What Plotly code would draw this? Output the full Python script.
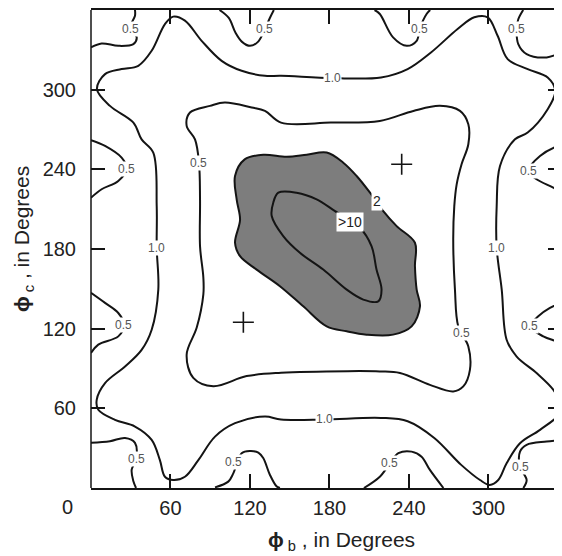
import plotly.graph_objects as go

# ---------------- data (degrees) ----------------
tick_vals = [60, 120, 180, 240, 300]
tick_text = ["60", "120", "180", "240", "300"]

# level 2 contour (shaded region)
lvl2_x = [108.7, 116, 130, 147.7, 162.8, 177.9, 190.4, 200.5, 210.6, 220.6, 230.7, 244.5, 244.5, 245.8, 248.3,
          242, 228, 208, 193, 177.9, 160.2, 142.6, 125, 112.5, 108.7, 112.5, 110, 108.7]
lvl2_y = [235, 247.5, 251, 249.5, 251, 252.6, 245, 235, 222.4, 208.5, 197.2, 184.7, 167, 149.4, 136.8,
          121.7, 115.5, 115.5, 118, 121.7, 136.8, 152, 164.5, 174.6, 184.7, 202, 217, 235]

# level >10 contour
lvl10_x = [137.6, 141.4, 155.2, 170.3, 184.2, 203, 211.8, 215.5, 219.3, 216.8, 205.5, 193, 175.3, 157.7, 145.1, 136.4, 137.6]
lvl10_y = [215, 222.4, 222.4, 217.4, 208.5, 196, 182, 164.5, 149.4, 140.6, 141.9, 149.4, 164.5, 177.1, 189.7, 204.8, 215]

# inner 0.5 contour
inner05_x = [89.8, 101, 121.3, 131.3, 143.4, 181, 218, 243.3, 263.4, 278.5, 284.8, 284.8, 279.7, 276, 274.2, 273.4,
             274.7, 277.2, 284.8, 286, 281, 273.4, 255.8, 233.2, 218, 193.7, 143.4, 117.5, 92.3, 77.2, 72.2,
             79.8, 84.8, 84.8, 82.3, 82.3, 81.5, 78.5, 72.2, 74.7, 89.8]
inner05_y = [287.8, 290.3, 286.6, 284, 275.2, 275.2, 276.4, 284, 287.8, 284, 274, 258.9, 243.8, 228.7, 212.3, 187,
             149.4, 121.7, 106.6, 89, 76.5, 72.7, 77.7, 86.6, 87.8, 88, 86.8, 84.3, 76.7, 83, 100.6,
             120.8, 145.9, 158.5, 182, 217, 245, 262.6, 272.7, 282.8, 287.8]

# 1.0 contour
one_x = [4.5, 10.6, 23.1, 35.7, 45.8, 55.8, 62, 70.9, 83.5, 98.6, 113.7, 131.3, 143.4, 182.4, 218.9, 239, 256.6,
         276.7, 289.3, 299.4, 306.9, 314.5, 329.6, 344.7, 350.4, 344.7, 329.6, 320, 308.7, 306.2, 306.2, 310,
         313.7, 321.3, 336.3, 348.9, 354, 354, 338.9, 323.8, 313.7, 307.4, 301, 293.6, 279.2, 259.1, 239,
         218.9, 176, 143.4, 131.3, 108.7, 93.6, 81, 70.9, 62, 55.8, 52, 45.8, 33.2, 18.1, 5.5, 4.3, 10.6,
         25.7, 38.2, 45.8, 50.8, 49.6, 49.6, 47, 38.2, 32, 14.3, 4.5]
one_y = [300.4, 311.7, 315.5, 318, 329.3, 349.4, 355, 352, 336.8, 321.7, 314.2, 310.4, 310.4, 308.7, 309.2, 315.5, 328,
         345.7, 354.5, 354.5, 340.6, 323, 315.5, 309.2, 299, 285.3, 267.7, 262.6, 242.5, 212.3, 181, 149.4,
         111.7, 99, 86.6, 74, 64, 56.4, 43.8, 33.7, 18.6, 6, 2.3, 6, 17.6, 37.7, 50.3,
         52.8, 51.6, 51.6, 53.8, 48.8, 38.7, 21, 8.5, 6, 8.5, 21, 36.2, 46.3, 51.3, 58.9, 66.4, 79,
         91.5, 104, 119.2, 149.4, 181, 212.3, 252.6, 262.6, 275.2, 287.8, 300.4]

# 0.5 lobes along the edges
lobes = {
    "BL": ([0, 14.3, 25.7, 33.2, 34, 30.7, 32, 34], [34, 35.2, 37.7, 34, 21.4, 13.8, 5, 0]),
    "B120": ([93.6, 103.6, 107.4, 113.7, 120, 126.3, 130, 135, 140, 142.6], [0.5, 4.8, 11, 26.2, 27.9, 26.7, 22.6, 10, 1.3, 0]),
    "B240": ([206, 218, 225.7, 232, 242, 249.5, 255.8, 266], [0, 8.5, 18.6, 26.2, 27.4, 23.6, 13.6, 0]),
    "BR": ([326.3, 328.8, 323.8, 323.8, 328.8, 343.9, 355.5, 360], [0, 6, 16, 27.4, 32.5, 35, 36.2, 36.5]),
    "L120": ([0, 5.5, 20.6, 25, 20.6, 10.6, 0], [101.7, 108, 114.2, 123, 131.8, 139.4, 147]),
    "L240": ([0, 10.6, 23.1, 27, 20.6, 8, 0], [262, 257.6, 248.8, 240.5, 231.2, 225, 218.6]),
    "TL": ([0, 8, 20.6, 32, 34.5, 29.4, 33.2, 33.2], [331.8, 334.8, 333, 334.3, 339.4, 346.4, 355.7, 360]),
    "T120": ([97, 104, 109, 114, 120, 126, 131, 135, 138], [360, 354, 343, 336, 333, 336, 345, 354, 360]),
    "T240": ([214, 218, 228, 238.3, 245.8, 248.3, 253.3, 256], [360, 357, 339.4, 333, 336.8, 346.4, 357, 360]),
    "TR": ([326.2, 322.5, 321.3, 322.5, 328.8, 343.9, 355.5, 360], [360, 353, 346.4, 334.3, 326.8, 324.3, 328, 329]),
    "R240": ([360, 352.7, 338.9, 330, 336.3, 348.9, 355.2, 360], [259, 257.6, 250, 238.7, 232.5, 226.2, 222.4, 221]),
    "R120": ([360, 355.2, 346.4, 337.6, 331.3, 341.4, 351.5, 360], [141, 139.4, 135.6, 129.3, 121.7, 114.2, 110.4, 107]),
}

# contour labels
lab05_x = [30, 131, 248, 321, 27, 24.4, 81.5, 279.7, 330, 331, 34, 107.5, 225.5, 324]
lab05_y = [346, 346, 346, 346, 240, 123, 245, 117, 239, 122, 21.5, 19.5, 19, 16]
lab10_x = [182.4, 49.6, 306.3, 176]
lab10_y = [308.7, 181, 181, 51.6]
big_labels = [("2", 216, 216), (">10", 195.5, 200)]

# + markers
plus_x = [115, 234.5]
plus_y = [124.8, 243.8]

# ---------------- figure ----------------
LINE = dict(color="#141414", width=2, shape="spline", smoothing=1)
fig = go.Figure()

fig.add_trace(go.Scatter(x=lvl2_x, y=lvl2_y, mode="lines", fill="toself", fillcolor="#7d7d7d",
                         line=LINE, hoverinfo="skip", showlegend=False))
fig.add_trace(go.Scatter(x=lvl10_x, y=lvl10_y, mode="lines", line=LINE, hoverinfo="skip", showlegend=False))
fig.add_trace(go.Scatter(x=inner05_x, y=inner05_y, mode="lines", line=LINE, hoverinfo="skip", showlegend=False))
fig.add_trace(go.Scatter(x=one_x, y=one_y, mode="lines", line=LINE, hoverinfo="skip", showlegend=False))
for name, (lx, ly) in lobes.items():
    fig.add_trace(go.Scatter(x=lx, y=ly, mode="lines", line=LINE, hoverinfo="skip", showlegend=False, name=name))

fig.add_trace(go.Scatter(x=plus_x, y=plus_y, mode="markers",
                         marker=dict(symbol="cross-thin", size=15, line=dict(color="#141414", width=1.6)),
                         hoverinfo="skip", showlegend=False))

LABFONT = dict(family="Liberation Sans, Arial, sans-serif", size=12, color="#555555")
for x, y in zip(lab05_x, lab05_y):
    fig.add_annotation(x=x, y=y, text="0.5", showarrow=False, font=LABFONT, bgcolor="white", borderpad=0)
for x, y in zip(lab10_x, lab10_y):
    fig.add_annotation(x=x, y=y, text="1.0", showarrow=False, font=LABFONT, bgcolor="white", borderpad=0)
for t, x, y in big_labels:
    fig.add_annotation(x=x, y=y, text=t, showarrow=False, bgcolor="white", borderpad=1,
                       font=dict(family="Liberation Sans, Arial, sans-serif", size=14, color="#222222"))

TICKFONT = dict(family="Liberation Sans, Arial, sans-serif", size=20, color="#222222")
fig.update_xaxes(range=[0, 355.5], tickvals=tick_vals, ticktext=tick_text, ticks="inside", ticklen=14,
                 tickwidth=1.5, tickcolor="#141414", showline=True, linecolor="#141414", linewidth=1.5,
                 mirror="ticks", showgrid=False, zeroline=False, tickfont=TICKFONT, ticklabelstandoff=1)
fig.update_yaxes(range=[0, 360], tickvals=tick_vals, ticktext=tick_text, ticks="inside", ticklen=14,
                 tickwidth=1.5, tickcolor="#141414", showline=False, mirror="ticks",
                 showgrid=False, zeroline=False, tickfont=TICKFONT, ticklabelstandoff=14)
fig.add_shape(type="line", xref="paper", yref="paper", x0=0, x1=0, y0=0, y1=1,
              line=dict(color="#141414", width=1.5))

fig.add_annotation(xref="paper", yref="paper", x=-0.049, y=-0.04, text="0", showarrow=False,
                   font=TICKFONT, xanchor="center", yanchor="middle")
fig.add_annotation(xref="paper", yref="paper", x=0.531, y=-0.11,
                   text="<b>ϕ</b><sub> b</sub> , in Degrees", showarrow=False,
                   font=dict(family="Liberation Sans, Arial, sans-serif", size=21, color="#222222"),
                   xanchor="center", yanchor="middle")
fig.add_annotation(xref="paper", yref="paper", x=-0.143, y=0.52, textangle=-90,
                   text="<b>ϕ</b><sub> c</sub> , in Degrees", showarrow=False,
                   font=dict(family="Liberation Sans, Arial, sans-serif", size=21, color="#222222"),
                   xanchor="center", yanchor="middle")

# page body has an 8px margin: size the figure so the plot area lands where the reference has it
fig.update_layout(width=554, height=548, margin=dict(l=83, r=0, t=2, b=68),
                  plot_bgcolor="white", paper_bgcolor="white")
fig.write_html("out.html")
